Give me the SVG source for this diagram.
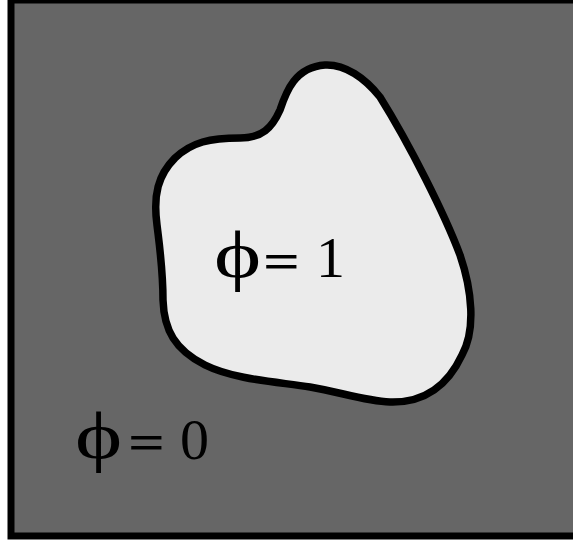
<svg xmlns="http://www.w3.org/2000/svg" width="573" height="543" viewBox="0 0 573 543">
  <style>
    .lbl { font-family: "Liberation Serif", "Times New Roman", serif; font-size: 58px; fill: #000; }
    .phi { font-family: "Liberation Serif", "Times New Roman", serif; font-size: 68px; fill: #000; }
    .eq { font-family: "Liberation Serif", "Times New Roman", serif; font-size: 50px; font-weight: bold; fill: #000; }
  </style>
  <rect x="0" y="0" width="573" height="543" fill="#ffffff"/>
  <rect id="domain" x="11" y="0" width="600" height="536" fill="#666666" stroke="#000" stroke-width="7"/>
  <path id="region" d="M325,65 C345,64 365,78 380,97 C410,145 445,215 460,255 C472,290 476,330 462,355 C448,385 425,403 390,402 C365,401 340,392 310,387 C280,382 235,380 205,365 C175,350 164,330 163,300 C163,270 160,250 157,225 C153,195 158,175 175,158 C192,142 210,138 240,138 C262,138 272,128 280,110 C286,92 295,67 325,65 Z" fill="#ebebeb" stroke="#000" stroke-width="7.5"/>
  <g id="label-inside">
    <text class="phi" transform="translate(214,278) scale(1.32,1)">ϕ</text>
    <text class="eq" transform="translate(263,278) scale(1.3,1)">=</text>
    <text class="lbl" x="316" y="277">1</text>
  </g>
  <g id="label-outside">
    <text class="phi" transform="translate(75,459) scale(1.32,1)">ϕ</text>
    <text class="eq" transform="translate(128,459) scale(1.3,1)">=</text>
    <text class="lbl" x="180" y="459">0</text>
  </g>
</svg>
